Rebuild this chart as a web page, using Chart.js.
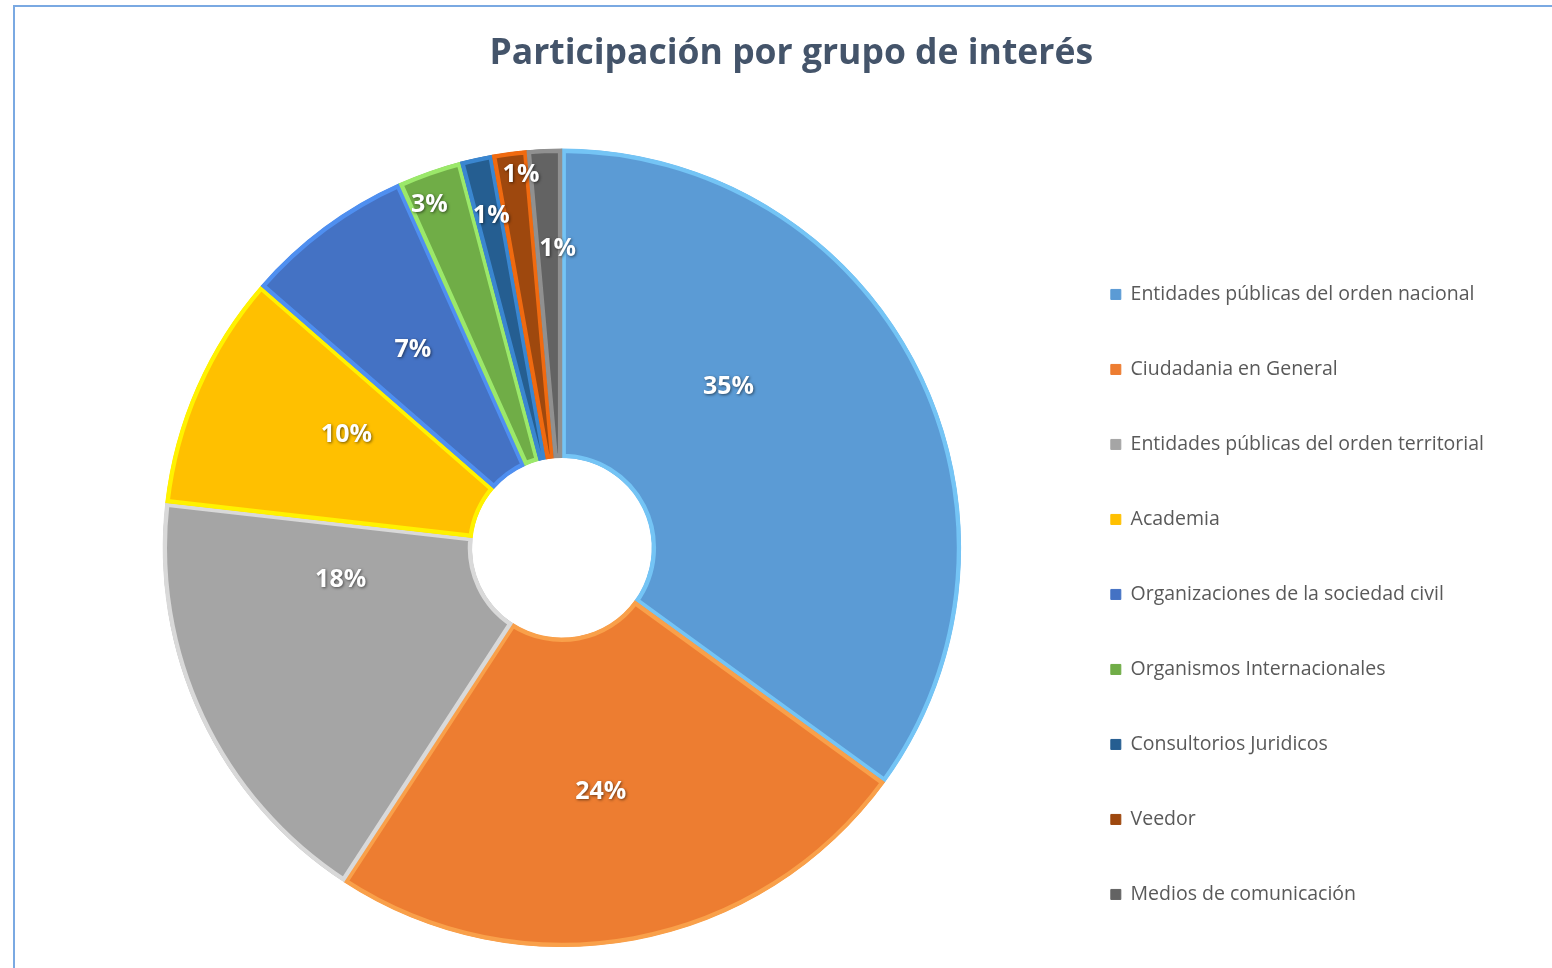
<!DOCTYPE html>
<html>
<head>
<meta charset="utf-8">
<script src="https://cdn.jsdelivr.net/npm/chart.js@4"></script>
<style>
  body { margin: 0; background: #fff; overflow: hidden; }
  #frame { position: absolute; left: 13px; top: 5px; width: 1600px; height: 1000px; border: 2px solid #7aa9e2; }
  #myChart { position: absolute; left: 15px; top: 7px; }
</style>
</head>
<body>
<div id="frame"></div>
<canvas id="myChart" width="1537" height="961"></canvas>
<script>
const groups = ['Entidades públicas del orden nacional', 'Ciudadania en General', 'Entidades públicas del orden territorial',
  'Academia', 'Organizaciones de la sociedad civil', 'Organismos Internacionales', 'Consultorios Juridicos',
  'Veedor', 'Medios de comunicación'];
const shares = [35.0, 24.2, 17.6, 9.6, 6.9, 2.6, 1.3, 1.4, 1.4];
const fills = ['#5b9bd5', '#ed7d31', '#a5a5a5', '#ffc000', '#4472c4', '#70ad47', '#255e91', '#9e480e', '#636363'];
const edges = ['#74c4f5', '#f9a04a', '#d9d9d9', '#fff200', '#4f8ff0', '#9be86a', '#3a86d0', '#f06a10', '#909090'];

// where each percent label sits: fraction of the radius and a small turn (degrees) off the slice middle
const labelRadius = [0.58, 0.62, 0.56, 0.61, 0.62, 0.92, 0.85, 0.94, 0.75];
const labelTurn = [-17, 1.4, 17, 4, -0.5, -1.7, 0.4, 1.3, 1.7];

const total = shares.reduce((a, b) => a + b, 0);

const percentLabels = {
  id: 'percentLabels',
  afterDatasetsDraw(chart) {
    const ctx = chart.ctx;
    const arcs = chart.getDatasetMeta(0).data;
    ctx.save();
    ctx.font = 'bold 25px "Open Sans", sans-serif';
    ctx.textAlign = 'center';
    ctx.textBaseline = 'middle';
    ctx.fillStyle = '#ffffff';
    ctx.shadowColor = 'rgba(0,0,0,0.55)';
    ctx.shadowBlur = 3;
    ctx.shadowOffsetX = 1;
    ctx.shadowOffsetY = 1;
    arcs.forEach((arc, i) => {
      const p = arc.getProps(['x', 'y', 'startAngle', 'endAngle', 'outerRadius']);
      const a = (p.startAngle + p.endAngle) / 2 + labelTurn[i] * Math.PI / 180;
      const r = p.outerRadius * labelRadius[i];
      const pct = Math.round(shares[i] / total * 100) + '%';
      ctx.fillText(pct, p.x + Math.cos(a) * r, p.y + Math.sin(a) * r);
    });
    ctx.restore();
  }
};

// small layout nudges the legend/title boxes can't express through options
const nudge = {
  id: 'nudge',
  afterLayout(chart) {
    chart.legend.top += 21;
    chart.legend.bottom += 21;
    chart.titleBlock.left += 10;
    chart.titleBlock.right += 10;
  }
};

new Chart(document.getElementById('myChart'), {
  type: 'doughnut',
  data: {
    labels: groups,
    datasets: [{
      data: shares,
      backgroundColor: fills,
      borderColor: edges,
      borderWidth: 4,
      borderAlign: 'inner',
      hoverOffset: 0
    }]
  },
  options: {
    responsive: false,
    animation: false,
    cutout: '22.5%',
    layout: { padding: { left: 53.5, right: 58, top: 0, bottom: 21 } },
    plugins: {
      title: {
        display: true,
        text: 'Participación por grupo de interés',
        color: '#44546a',
        font: { family: '"Open Sans", sans-serif', size: 35.5, weight: 'bold' },
        padding: { top: 26, bottom: 73 }
      },
      legend: {
        position: 'right',
        align: 'start',
        title: { display: true, text: '', font: { size: 1 }, padding: { top: 200, bottom: 0 } },
        labels: {
          boxWidth: 10,
          boxHeight: 10,
          padding: 55.5,
          color: '#595959',
          font: { family: '"Open Sans", sans-serif', size: 19.5 },
          generateLabels(chart) {
            const items = Chart.overrides.doughnut.plugins.legend.labels.generateLabels(chart);
            items.forEach((it, i) => { it.strokeStyle = fills[i]; it.lineWidth = 1; });
            return items;
          }
        }
      },
      tooltip: { enabled: false }
    }
  },
  plugins: [percentLabels, nudge]
});
</script>
</body>
</html>
